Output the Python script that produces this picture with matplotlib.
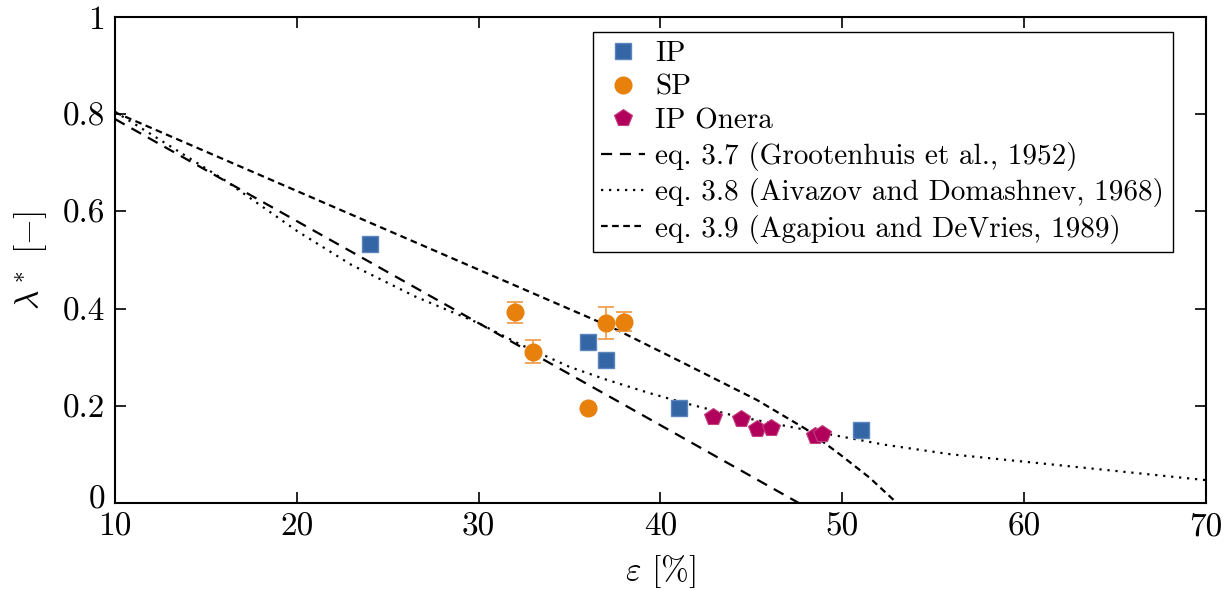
import numpy as np
import matplotlib
matplotlib.use('Agg')
import matplotlib.pyplot as plt
import matplotlib.transforms as mtransforms

plt.rcParams['font.family'] = 'cmr10'
plt.rcParams['mathtext.fontset'] = 'cm'
plt.rcParams['axes.formatter.use_mathtext'] = True

# measured data
ip_eps = [24, 36, 37, 41, 51]
ip_lam = [0.532, 0.332, 0.295, 0.196, 0.151]

sp_eps = [32, 33, 36, 37, 38]
sp_lam = [0.392, 0.311, 0.196, 0.371, 0.373]
sp_err = [0.022, 0.024, 0.0, 0.033, 0.019]

onera_eps = [42.9, 44.4, 45.3, 46.1, 48.5, 48.9]
onera_lam = [0.177, 0.173, 0.152, 0.154, 0.138, 0.142]

# correlations
gr_eps = [10, 20, 30, 40, 47.6]
gr_lam = [0.79, 0.58, 0.37, 0.16, 0.0]

ai_eps = [10, 13, 16, 20, 23, 26.5, 30, 32.3, 35, 37, 39.4, 41.3, 44, 47.5, 52.3, 56, 60, 65, 70]
ai_lam = [0.805, 0.735, 0.665, 0.56, 0.49, 0.425, 0.37, 0.326, 0.28, 0.254, 0.226, 0.206,
          0.18, 0.154, 0.12, 0.10, 0.085, 0.066, 0.047]

ag_eps = [10, 20, 30, 37.4, 41, 45.3, 48, 49.9, 51.5, 53.0]
ag_lam = [0.804, 0.642, 0.48, 0.36, 0.293, 0.212, 0.152, 0.099, 0.052, 0.0]

c_ip = '#3465a4'
c_sp = '#e8800c'
c_on = '#b1005b'

fig = plt.figure(figsize=(12.31, 5.90), dpi=100)
ax = fig.add_axes([0.0934, 0.1475, 0.8863, 0.8237])

ax.plot(ip_eps, ip_lam, 's', color=c_ip, ms=12, mec='#5a85bd', mew=1, label='IP', zorder=5)
ax.errorbar(sp_eps, sp_lam, yerr=sp_err, fmt='none', ecolor='#f0a050',
            elinewidth=1.3, capsize=6, capthick=1.3, zorder=4)
ax.plot(sp_eps, sp_lam, 'o', color=c_sp, ms=12, mec=c_sp, label='SP', zorder=5)
ax.plot(onera_eps, onera_lam, 'p', color=c_on, ms=13, mec='#c4407f', mew=0.8, label='IP Onera', zorder=5)

ax.plot(gr_eps, gr_lam, color='k', lw=1.6, dashes=(5, 3.5),
        label='eq. 3.7 (Grootenhuis et al., 1952)')
ax.plot(ai_eps, ai_lam, color='k', lw=1.6, dashes=(1, 2.6),
        label='eq. 3.8 (Aivazov and Domashnev, 1968)')
ax.plot(ag_eps, ag_lam, color='k', lw=1.6, dashes=(3, 2),
        label='eq. 3.9 (Agapiou and DeVries, 1989)')

ax.set_xlim(10, 70)
ax.set_ylim(0, 1)
ax.set_xticks([10, 20, 30, 40, 50, 60, 70])
ax.set_xticklabels(['10', '20', '30', '40', '50', '60', '70'])
ax.set_yticks([0, 0.2, 0.4, 0.6, 0.8, 1])
ax.set_yticklabels(['0', '0.2', '0.4', '0.6', '0.8', '1'])
ax.tick_params(direction='in', length=8, width=1.2, labelsize=24, top=True, right=True, pad=7)
for s in ax.spines.values():
    s.set_linewidth(1.5)

# nudge the "0" label up a little so it does not sit on the "10"
lab0 = ax.get_yticklabels()[0]
lab0.set_transform(lab0.get_transform() + mtransforms.ScaledTranslation(0, 4 / 72, fig.dpi_scale_trans))

ax.set_xlabel(r'$\varepsilon$ [%]', fontsize=24, labelpad=8)
ax.set_ylabel(r'$\lambda^*$ [$-$]', fontsize=24, labelpad=10)

leg = ax.legend(loc='upper right', bbox_to_anchor=(0.9697, 0.969), borderaxespad=0,
                fontsize=21, numpoints=1, handlelength=1.5, fancybox=False, framealpha=1,
                edgecolor='k', labelspacing=0.25, borderpad=0.3, handletextpad=0.35)
leg.get_frame().set_linewidth(1.0)

fig.savefig('out.png', dpi=100)
